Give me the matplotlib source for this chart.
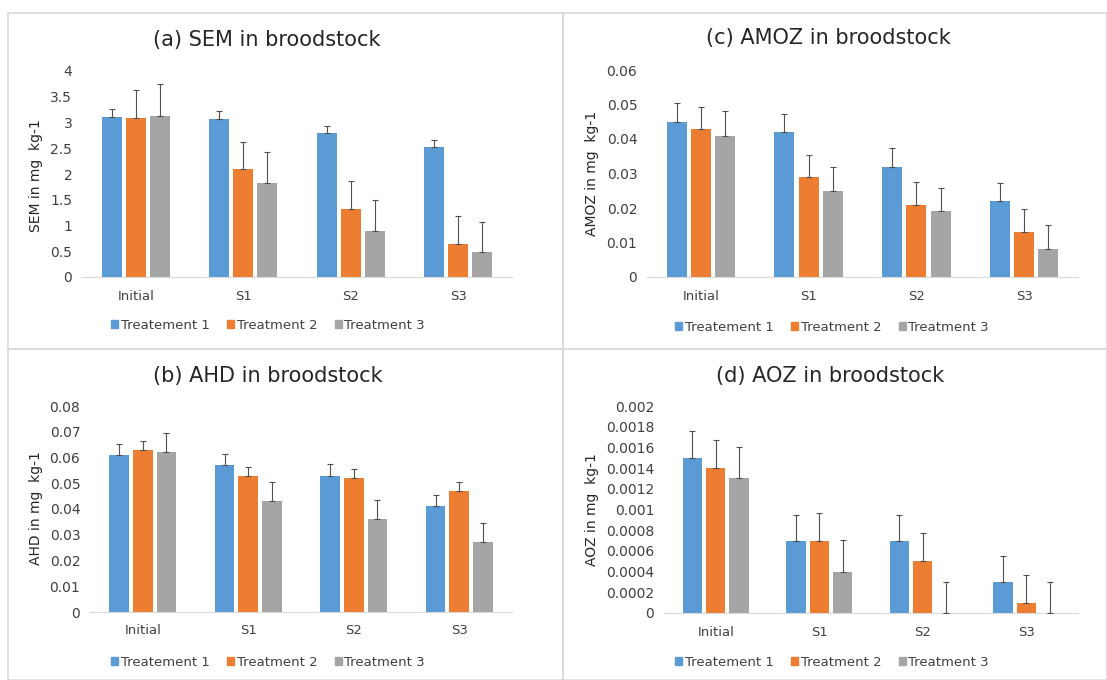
import numpy as np
import matplotlib
matplotlib.use("Agg")
import matplotlib.pyplot as plt
from matplotlib.patches import Rectangle, Patch

plt.rcParams["font.family"] = ["DejaVu Sans"]

categories = ["Initial", "S1", "S2", "S3"]
series_names = ["Treatement 1", "Treatment 2", "Treatment 3"]
colors = ["#5B9BD5", "#ED7D31", "#A5A5A5"]

# (a) SEM
sem_vals = [[3.11, 3.07, 2.79, 2.52],
            [3.09, 2.09, 1.33, 0.64],
            [3.13, 1.82, 0.89, 0.49]]
sem_err = [[0.15, 0.15, 0.15, 0.14],
           [0.54, 0.53, 0.53, 0.54],
           [0.61, 0.60, 0.60, 0.58]]

# (c) AMOZ
amoz_vals = [[0.045, 0.042, 0.032, 0.022],
             [0.043, 0.029, 0.021, 0.013],
             [0.041, 0.025, 0.019, 0.008]]
amoz_err = [[0.0053, 0.0053, 0.0053, 0.0053],
            [0.0064, 0.0064, 0.0066, 0.0066],
            [0.0070, 0.0070, 0.0068, 0.0070]]

# (b) AHD
ahd_vals = [[0.061, 0.057, 0.053, 0.041],
            [0.063, 0.053, 0.052, 0.047],
            [0.062, 0.043, 0.036, 0.027]]
ahd_err = [[0.0044, 0.0045, 0.0044, 0.0044],
           [0.0034, 0.0035, 0.0035, 0.0035],
           [0.0075, 0.0076, 0.0076, 0.0074]]

# (d) AOZ
aoz_vals = [[0.0015, 0.0007, 0.0007, 0.0003],
            [0.0014, 0.0007, 0.0005, 0.0001],
            [0.0013, 0.0004, 0.0, 0.0]]
aoz_err = [[0.00026, 0.00025, 0.00025, 0.00025],
           [0.00027, 0.00027, 0.00027, 0.00027],
           [0.00030, 0.00031, 0.00030, 0.00030]]

W, H = 1107, 680
fig = plt.figure(figsize=(W / 100, H / 100), dpi=100)


def fx(x):
    return x / W


def fy(y):
    return 1 - y / H


# panel borders
for (x0, y0, x1, y1) in [(8, 13, 563, 349), (563, 13, 1107, 349),
                         (8, 349, 563, 680), (563, 349, 1107, 680)]:
    fig.patches.append(Rectangle((fx(x0), fy(y1)), fx(x1 - x0), (y1 - y0) / H,
                                 transform=fig.transFigure, fill=False,
                                 edgecolor="#D9D9D9", linewidth=1.2))


def panel(box, vals, errs, ymax, ystep, title, title_xy, ylabel, ylabel_xy, legend_xy):
    x0, y0, x1, y1 = box
    ax = fig.add_axes([fx(x0), fy(y1), fx(x1 - x0), (y1 - y0) / H])
    x = np.arange(len(categories))
    width = 0.185
    offsets = [-0.225, 0.0, 0.225]
    for i in range(3):
        ax.bar(x + offsets[i], vals[i], width, color=colors[i], zorder=2)
        ax.errorbar(x + offsets[i], vals[i], yerr=[np.zeros(4), errs[i]],
                    fmt="none", ecolor="#505050", elinewidth=0.8,
                    capsize=2.5, capthick=0.8, zorder=3)
    ax.set_xlim(-0.5, 3.5)
    ax.set_ylim(0, ymax)
    ticks = np.arange(0, ymax + ystep / 2, ystep)
    ax.set_yticks(ticks)
    ax.set_yticklabels([f"{t:.4f}".rstrip("0").rstrip(".") for t in ticks])
    ax.set_xticks(x)
    ax.set_xticklabels(categories)
    for s in ["top", "right", "left"]:
        ax.spines[s].set_visible(False)
    ax.spines["bottom"].set_color("#D9D9D9")
    ax.tick_params(axis="both", length=0, colors="#404040")
    ax.tick_params(axis="y", pad=7, labelsize=10)
    ax.tick_params(axis="x", pad=9, labelsize=9.5)
    fig.text(fx(title_xy[0]), fy(title_xy[1]), title, ha="center", va="center",
             fontsize=15, color="#262626")
    fig.text(fx(ylabel_xy[0]), fy(ylabel_xy[1]), ylabel, ha="center", va="center",
             rotation=90, fontsize=10, color="#262626")
    handles = [Patch(color=c) for c in colors]
    ax.legend(handles, series_names, loc="center", ncol=3,
              bbox_to_anchor=(fx(legend_xy[0]), fy(legend_xy[1])),
              bbox_transform=fig.transFigure, frameon=False, fontsize=9.5,
              handlelength=0.55, handleheight=0.55, handletextpad=0.2,
              columnspacing=1.3, labelcolor="#404040")
    return ax


panel((82, 71, 512, 277), sem_vals, sem_err, 4, 0.5,
      "(a) SEM in broodstock", (267, 40), "SEM in mg  kg-1", (36, 176), (268, 325))
panel((647, 70, 1078, 277), amoz_vals, amoz_err, 0.06, 0.01,
      "(c) AMOZ in broodstock", (828, 38), "AMOZ in mg  kg-1", (592, 173), (832, 327))
panel((90, 406, 512, 612), ahd_vals, ahd_err, 0.08, 0.01,
      "(b) AHD in broodstock", (268, 376), "AHD in mg  kg-1", (36, 508), (268, 662))
panel((664, 406, 1078, 613), aoz_vals, aoz_err, 0.002, 0.0002,
      "(d) AOZ in broodstock", (830, 376), "AOZ in mg  kg-1", (592, 510), (832, 662))

fig.savefig("out.png", dpi=100)
